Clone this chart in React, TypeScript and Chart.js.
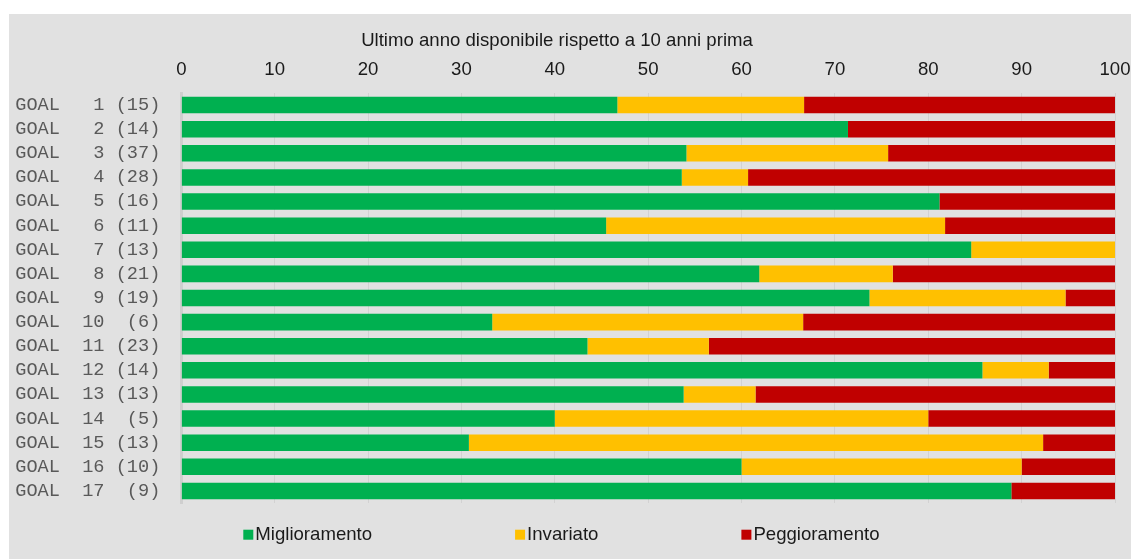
import React, { useEffect, useRef } from "react";
import { Chart, registerables } from "chart.js";

Chart.register(...registerables);

const categories = [
  "GOAL   1 (15)",
  "GOAL   2 (14)",
  "GOAL   3 (37)",
  "GOAL   4 (28)",
  "GOAL   5 (16)",
  "GOAL   6 (11)",
  "GOAL   7 (13)",
  "GOAL   8 (21)",
  "GOAL   9 (19)",
  "GOAL  10  (6)",
  "GOAL  11 (23)",
  "GOAL  12 (14)",
  "GOAL  13 (13)",
  "GOAL  14  (5)",
  "GOAL  15 (13)",
  "GOAL  16 (10)",
  "GOAL  17  (9)",
];

const miglioramento = [46.7, 71.4, 54.1, 53.6, 81.2, 45.5, 84.6, 61.9, 73.7, 33.3, 43.5, 85.8, 53.8, 40.0, 30.8, 60.0, 88.9];
const invariato = [20.0, 0, 21.6, 7.1, 0, 36.3, 15.4, 14.3, 21.0, 33.3, 13.0, 7.1, 7.7, 40.0, 61.5, 30.0, 0];
const peggioramento = [33.3, 28.6, 24.3, 39.3, 18.8, 18.2, 0, 23.8, 5.3, 33.4, 43.5, 7.1, 38.5, 20.0, 7.7, 10.0, 11.1];

const seriesNames = ["Miglioramento", "Invariato", "Peggioramento"];
const seriesColors = ["#00b050", "#ffc000", "#c00000"];
const axisTitle = "Ultimo anno disponibile rispetto a 10 anni prima";

const SANS = "'Liberation Sans', Arial, sans-serif";
const MONO = "'Liberation Mono', 'Courier New', monospace";
const FS = 18.6;

const extras = {
  id: "extras",
  afterDraw(chart: any) {
    const o = chart.options.plugins.extras;
    if (!o) return;
    const ctx = chart.ctx;
    ctx.save();
    ctx.font = `${o.size}px ${o.family}`;
    ctx.textBaseline = "middle";
    // axis title
    ctx.textAlign = "center";
    ctx.fillStyle = o.color;
    ctx.fillText(o.title, o.titleX, o.titleY);
    // legend
    ctx.textAlign = "left";
    let x = o.startX;
    chart.data.datasets.forEach((ds: any) => {
      ctx.fillStyle = ds.backgroundColor;
      ctx.fillRect(x, o.y - o.box / 2, o.box, o.box);
      ctx.fillStyle = o.color;
      ctx.fillText(ds.label, x + o.textOffset, o.y);
      x += o.textOffset + ctx.measureText(ds.label).width + o.gap;
    });
    ctx.restore();
  },
};

export default function App() {
  const ref = useRef<HTMLCanvasElement | null>(null);

  useEffect(() => {
    if (!ref.current) return;
    const values = [miglioramento, invariato, peggioramento];
    const chart = new Chart(ref.current, {
      type: "bar",
      data: {
        labels: categories,
        datasets: seriesNames.map((name, i) => ({
          label: name,
          data: values[i],
          backgroundColor: seriesColors[i],
          borderWidth: 0,
          categoryPercentage: 1,
          barPercentage: 0.685,
        })),
      },
      options: {
        indexAxis: "y",
        responsive: false,
        animation: false,
        layout: { padding: { top: 11, left: 7, right: 16, bottom: 56 } },
        scales: {
          x: {
            position: "top",
            stacked: true,
            min: 0,
            max: 100,
            afterFit: (s: any) => {
              s.height = 68;
              s.paddingLeft = 0;
              s.paddingRight = 0;
            },
            ticks: {
              stepSize: 10,
              padding: 12,
              color: "#1a1a1a",
              font: { family: SANS, size: FS },
            },
            grid: { color: "#d2d2d2", lineWidth: 1, drawTicks: false },
            border: { display: false },
          },
          y: {
            stacked: true,
            afterFit: (s: any) => {
              s.width = 165.3;
            },
            ticks: {
              autoSkip: false,
              padding: 21,
              color: "#595959",
              font: { family: MONO, size: FS },
            },
            grid: { display: false, drawTicks: false },
            border: { display: true, color: "#cfcfcf", width: 3 },
          },
        },
        plugins: {
          legend: { display: false },
          tooltip: { enabled: false },
          // @ts-ignore
          extras: {
            title: axisTitle,
            titleX: 548,
            titleY: 27,
            startX: 234.3,
            y: 520.7,
            box: 10,
            textOffset: 12,
            gap: 143,
            size: FS,
            family: SANS,
            color: "#1a1a1a",
          },
        },
      },
      plugins: [extras],
    } as any);
    return () => chart.destroy();
  }, []);

  return (
    <div style={{ position: "fixed", left: 0, top: 0, width: 1131, height: 559, background: "#ffffff" }}>
      <div style={{ position: "absolute", left: 9, top: 14, width: 1122, height: 545, background: "#e1e1e1" }}>
        <canvas ref={ref} width={1122} height={545} style={{ display: "block" }} />
      </div>
    </div>
  );
}
